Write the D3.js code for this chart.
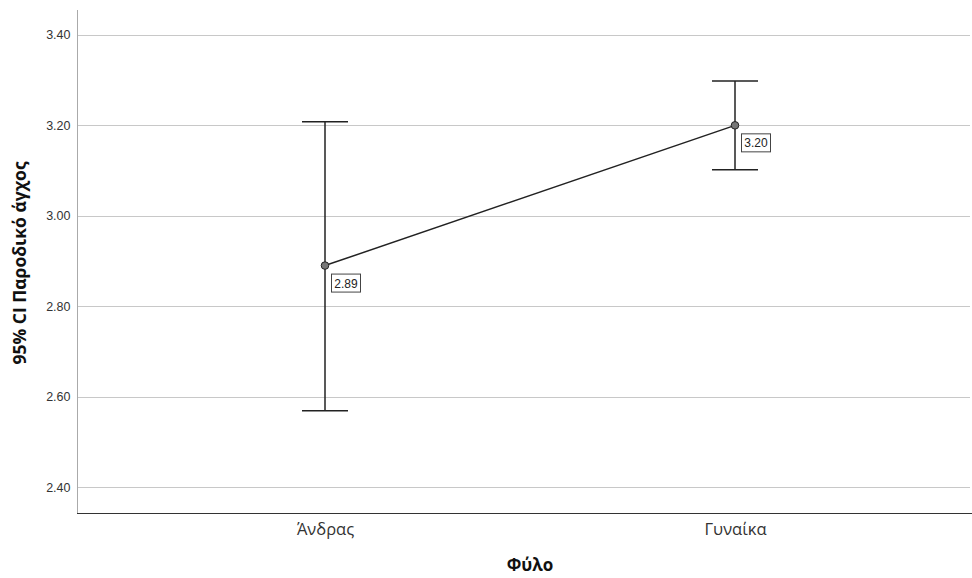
<!DOCTYPE html>
<html><head><meta charset="utf-8">
<script src="https://cdn.jsdelivr.net/npm/d3@7"></script>
<style>body{margin:0;background:#fff}svg{display:block}</style>
</head><body><svg id="c" width="972" height="578"></svg>
<script>
const categories = ["Άνδρας", "Γυναίκα"];
const means = [2.89, 3.20];
const ciLower = [2.569, 3.102];
const ciUpper = [3.208, 3.298];
const meanLabels = ["2.89", "3.20"];
const yTicks = [2.40, 2.60, 2.80, 3.00, 3.20, 3.40];
const xTitle = "Φύλο";
const yTitle = "95% CI Παροδικό άγχος";

(function(){
const svg = d3.select("#c");
const L = 77, R = 972, T = 10, B = 513;
const y = d3.scaleLinear().domain([2.343, 3.455]).range([B, T]);
const x = d3.scalePoint().domain(categories).range([120, 940]).padding(0.5);
const font = "Arial, 'Liberation Sans', sans-serif";
const font2 = "'Open Sans', Arial, sans-serif";

svg.append("g").selectAll("line").data(yTicks).join("line")
  .attr("x1", L).attr("x2", R - 2)
  .attr("y1", d => Math.round(y(d)) + 0.5).attr("y2", d => Math.round(y(d)) + 0.5)
  .attr("stroke", "#c8c8c8").attr("stroke-width", 1);

const yAxis = svg.append("g").attr("transform", `translate(${L + 0.5},0)`)
  .call(d3.axisLeft(y).tickValues(yTicks).tickFormat(d3.format(".2f")).tickSize(0).tickPadding(7));
yAxis.select(".domain").attr("stroke", "#aaaaaa").attr("d", `M0,${T}V${B}`);
yAxis.selectAll("text").attr("font-family", font).attr("font-size", 12.5).attr("fill", "#333");

const xAxis = svg.append("g").attr("transform", `translate(0,${B + 0.5})`)
  .call(d3.axisBottom(x).tickSize(0).tickPadding(10));
xAxis.select(".domain").attr("stroke", "#333").attr("d", `M${L},0H${R}`);
xAxis.selectAll("text").attr("font-family", font2).attr("font-size", 16.5).attr("fill", "#333");

svg.append("text").attr("x", 530).attr("y", 571).attr("text-anchor", "middle")
  .attr("font-family", font2).attr("font-size", 17).attr("font-weight", "bold").attr("fill", "#111")
  .text(xTitle);
svg.append("text").attr("transform", `translate(26,263) rotate(-90)`)
  .attr("text-anchor", "middle")
  .attr("font-family", font2).attr("font-size", 17.5).attr("font-weight", "bold").attr("fill", "#111")
  .text(yTitle);

const data = categories.map((c, i) => ({c, m: means[i], lo: ciLower[i], hi: ciUpper[i], lab: meanLabels[i]}));
const g = svg.append("g");
const cap = 23;
g.selectAll(".eb").data(data).join("line")
  .attr("x1", d => x(d.c)).attr("x2", d => x(d.c))
  .attr("y1", d => y(d.lo)).attr("y2", d => y(d.hi))
  .attr("stroke", "#222").attr("stroke-width", 1.5);
g.selectAll(".capH").data(data).join("line")
  .attr("x1", d => x(d.c) - cap).attr("x2", d => x(d.c) + cap)
  .attr("y1", d => y(d.hi)).attr("y2", d => y(d.hi))
  .attr("stroke", "#222").attr("stroke-width", 1.5);
g.selectAll(".capL").data(data).join("line")
  .attr("x1", d => x(d.c) - cap).attr("x2", d => x(d.c) + cap)
  .attr("y1", d => y(d.lo)).attr("y2", d => y(d.lo))
  .attr("stroke", "#222").attr("stroke-width", 1.5);
g.append("path").datum(data)
  .attr("d", d3.line().x(d => x(d.c)).y(d => y(d.m)))
  .attr("fill", "none").attr("stroke", "#222").attr("stroke-width", 1.5);
g.selectAll("circle").data(data).join("circle")
  .attr("cx", d => x(d.c)).attr("cy", d => y(d.m)).attr("r", 3.8)
  .attr("fill", "#777").attr("stroke", "#222").attr("stroke-width", 1);
const lg = g.selectAll(".lab").data(data).join("g")
  .attr("transform", d => `translate(${x(d.c) + 6},${y(d.m) + 8})`);
lg.append("rect").attr("x", 0.5).attr("y", 0.5).attr("width", 29).attr("height", 18)
  .attr("fill", "#fff").attr("stroke", "#444").attr("stroke-width", 1);
lg.append("text").attr("x", 15).attr("y", 14).attr("text-anchor", "middle")
  .attr("font-family", font).attr("font-size", 12).attr("fill", "#222")
  .text(d => d.lab);
})();
</script></body></html>
